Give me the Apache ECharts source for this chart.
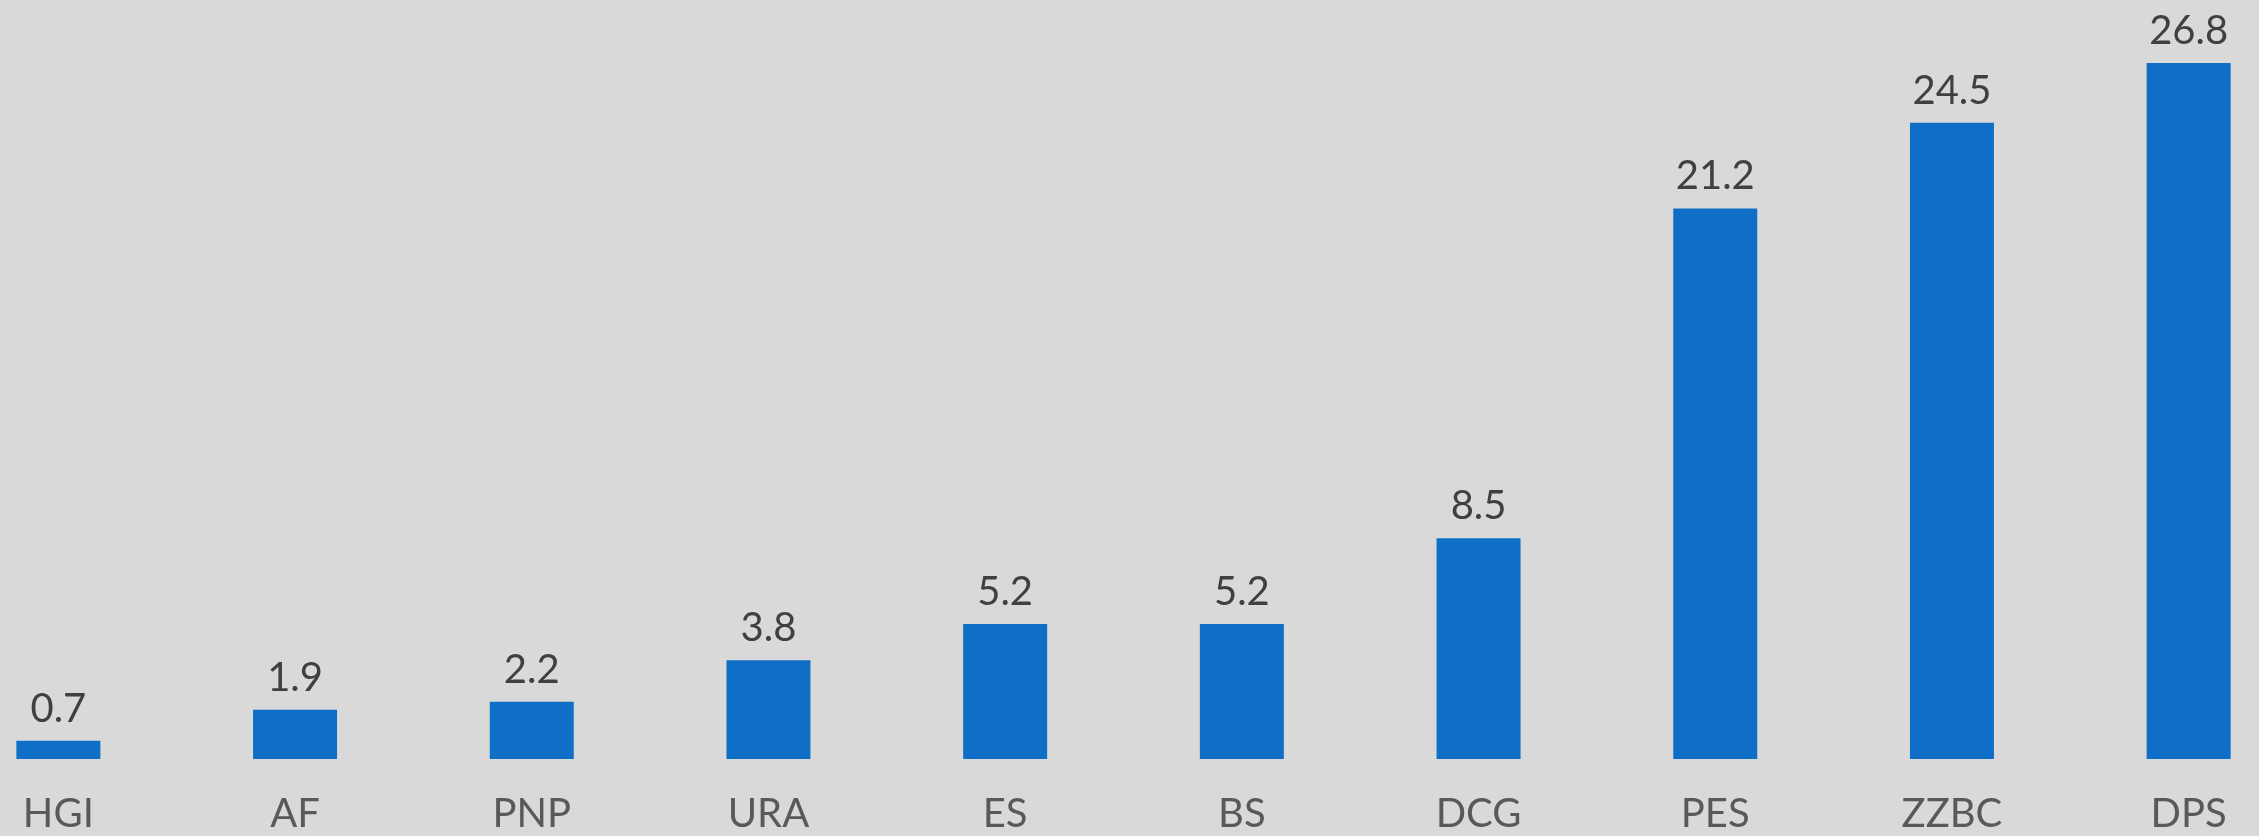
<!DOCTYPE html>
<html>
<head>
<meta charset="utf-8">
<script src="https://cdn.jsdelivr.net/npm/echarts@6/dist/echarts.min.js"></script>
<style>
  html, body { margin: 0; padding: 0; background: #d9d9d9; overflow: hidden; width: 2259px; height: 836px; position: relative; }
  /* the first and last bands run off the page edges, so the chart box is wider than the page */
  #main { position: absolute; left: -60px; top: 0; width: 2367px; height: 836px; }
</style>
</head>
<body>
<div id="main"></div>
<script>
// categories and values
var categories = ["HGI", "AF", "PNP", "URA", "ES", "BS", "DCG", "PES", "ZZBC", "DPS"];
var values = [0.7, 1.9, 2.2, 3.8, 5.2, 5.2, 8.5, 21.2, 24.5, 26.8];

var myChart = echarts.init(document.getElementById("main"));

var option = {
  backgroundColor: "#d9d9d9",
  textStyle: { fontFamily: "Lato, 'Noto Sans', sans-serif" },
  grid: {
    left: 0,
    right: 0,
    top: 63,
    bottom: 77,
    containLabel: false
  },
  xAxis: {
    type: "category",
    data: categories,
    axisLine: { show: false },
    axisTick: { show: false },
    axisLabel: {
      color: "#595959",
      fontSize: 40,
      margin: 35,
      interval: 0
    }
  },
  yAxis: {
    type: "value",
    min: 0,
    max: 26.8,
    show: false,
    splitLine: { show: false }
  },
  series: [
    {
      type: "bar",
      data: values,
      barWidth: 84,
      itemStyle: { color: "#0f6fc6" },
      label: {
        show: true,
        position: "top",
        distance: 12,
        color: "#404040",
        fontSize: 40
      }
    }
  ]
};

myChart.setOption(option);
</script>
</body>
</html>
